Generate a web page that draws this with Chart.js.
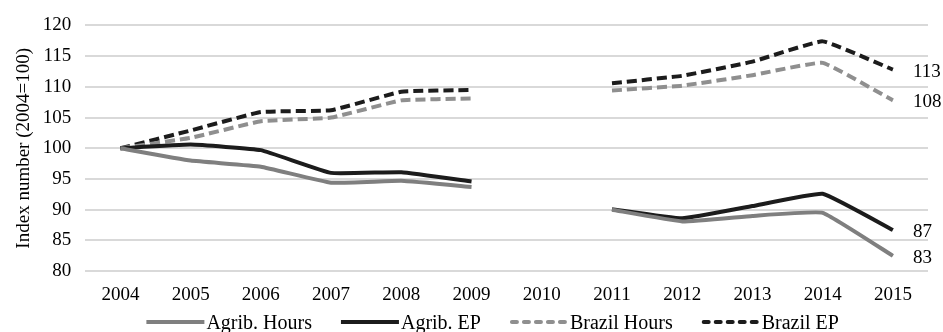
<!DOCTYPE html>
<html>
<head>
<meta charset="utf-8">
<script src="https://cdn.jsdelivr.net/npm/chart.js@4/dist/chart.umd.min.js"></script>
<style>
  html, body { margin: 0; padding: 0; background: #fff; }
  #wrap { width: 943px; height: 332px; position: relative; }
</style>
</head>
<body>
<div id="wrap"><canvas id="chart"></canvas></div>
<script>
var years = ['2004', '2005', '2006', '2007', '2008', '2009', '2010', '2011', '2012', '2013', '2014', '2015']
var agribHours = [100, 98.0, 97.0, 94.4, 94.7, 93.7, null, 90.0, 88.1, 89.0, 89.5, 82.5]
var agribEP    = [100, 100.6, 99.7, 96.0, 96.1, 94.6, null, 90.1, 88.6, 90.6, 92.6, 86.7]
var brazilHours = [100, 101.7, 104.4, 105.0, 107.8, 108.1, null, 109.4, 110.2, 111.9, 113.9, 107.8]
var brazilEP    = [100, 102.9, 105.9, 106.2, 109.2, 109.5, null, 110.6, 111.8, 114.1, 117.4, 112.8]
var endLabels = ['83', '87', '108', '113']

var serif = "'Liberation Serif', 'Times New Roman', serif"

// value labels at the right end of each line
var endLabelPlugin = {
  id: 'endLabels',
  afterDatasetsDraw: function (chart) {
    var ctx = chart.ctx
    ctx.save()
    ctx.font = '19px ' + serif
    ctx.fillStyle = '#000'
    ctx.textBaseline = 'middle'
    ctx.textAlign = 'left'
    chart.data.datasets.forEach(function (ds, i) {
      var meta = chart.getDatasetMeta(i)
      var pt = meta.data[meta.data.length - 1]
      ctx.fillText(endLabels[i], pt.x + 20, pt.y + 2)
    })
    ctx.restore()
  }
}

// legend drawn by hand so the spacing can match the original
var legendPlugin = {
  id: 'bottomLegend',
  afterDraw: function (chart) {
    var ctx = chart.ctx
    var y = 322
    var lineLen = 58, textGap = 2, itemGap = 29
    ctx.save()
    ctx.font = '20px ' + serif
    var widths = chart.data.datasets.map(function (ds) {
      return lineLen + textGap + ctx.measureText(ds.label).width
    })
    var total = widths.reduce(function (a, b) { return a + b }, 0) + itemGap * (widths.length - 1)
    var x = (chart.chartArea.left + chart.chartArea.right) / 2 - 14 - total / 2
    chart.data.datasets.forEach(function (ds, i) {
      ctx.beginPath()
      ctx.strokeStyle = ds.borderColor
      ctx.lineWidth = 4
      ctx.lineCap = ds.borderDash ? 'round' : 'butt'
      ctx.setLineDash(ds.borderDash ? [5, 7] : [])
      ctx.moveTo(x + (ds.borderDash ? 2 : 0), y)
      ctx.lineTo(x + lineLen, y)
      ctx.stroke()
      ctx.setLineDash([])
      ctx.fillStyle = '#000'
      ctx.textBaseline = 'alphabetic'
      ctx.fillText(ds.label, x + lineLen + textGap, y + 7)
      x += widths[i] + itemGap
    })
    ctx.restore()
  }
}

var ctx = document.getElementById('chart').getContext('2d')
var chart = new Chart(ctx, {
  type: 'line',
  data: {
    labels: years,
    datasets: [
      {
        label: 'Agrib. Hours',
        data: agribHours,
        borderColor: '#7f7f7f',
        backgroundColor: '#7f7f7f',
        borderWidth: 4
      },
      {
        label: 'Agrib. EP',
        data: agribEP,
        borderColor: '#1c1c1c',
        backgroundColor: '#1c1c1c',
        borderWidth: 4
      },
      {
        label: 'Brazil Hours',
        data: brazilHours,
        borderColor: '#8f8f8f',
        backgroundColor: '#8f8f8f',
        borderWidth: 4,
        borderDash: [10, 5]
      },
      {
        label: 'Brazil EP',
        data: brazilEP,
        borderColor: '#1c1c1c',
        backgroundColor: '#1c1c1c',
        borderWidth: 4,
        borderDash: [10, 5]
      }
    ]
  },
  options: {
    responsive: true,
    maintainAspectRatio: false,
    animation: false,
    spanGaps: false,
    layout: { padding: { top: 12, right: 15, left: 13, bottom: 14 } },
    elements: {
      point: { radius: 0, hoverRadius: 0 },
      line: { tension: 0.1, borderCapStyle: 'butt', borderJoinStyle: 'round' }
    },
    scales: {
      x: {
        offset: true,
        grid: { display: false, drawTicks: false },
        border: { display: false },
        ticks: { color: '#000', font: { family: serif, size: 19 }, padding: 12, maxRotation: 0 }
      },
      y: {
        min: 80,
        max: 120,
        ticks: { stepSize: 5, color: '#000', font: { family: serif, size: 19 }, padding: 14 },
        grid: { color: '#d9d9d9', lineWidth: 2, drawTicks: false },
        border: { display: false },
        title: {
          display: true,
          text: 'Index number (2004=100)',
          color: '#000',
          font: { family: serif, size: 19 },
          padding: { top: 0, bottom: -7 }
        }
      }
    },
    plugins: {
      tooltip: { enabled: false },
      legend: { display: false }
    }
  },
  plugins: [endLabelPlugin, legendPlugin]
})
</script>
</body>
</html>
